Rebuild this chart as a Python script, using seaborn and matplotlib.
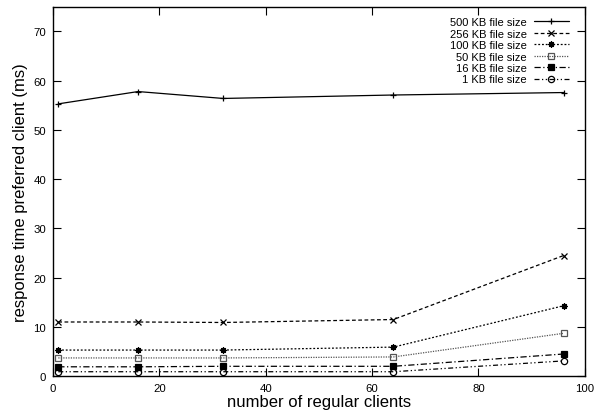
import numpy as np
import pandas as pd
import matplotlib
matplotlib.use("Agg")
import matplotlib.pyplot as plt
import seaborn as sns

# numero de clientes regulares (eixo x)
clients = [1, 16, 32, 64, 96]

# tempo de resposta do cliente preferido (ms), um array por tamanho de arquivo
kb500 = [55.3, 57.8, 56.4, 57.1, 57.6]
kb256 = [11.0, 11.0, 10.9, 11.5, 24.5]
kb100 = [5.3, 5.3, 5.3, 5.9, 14.3]
kb50 = [3.7, 3.7, 3.7, 3.9, 8.7]
kb16 = [1.9, 1.9, 2.0, 2.0, 4.5]
kb1 = [0.9, 0.9, 0.9, 0.9, 3.1]

labels = ["500 KB file size", "256 KB file size", "100 KB file size",
          "50 KB file size", "16 KB file size", "1 KB file size"]
series = [kb500, kb256, kb100, kb50, kb16, kb1]

# estilo parecido com gnuplot
estilos = [
    dict(linestyle="-", marker="+", color="black", mfc="black"),
    dict(linestyle=(0, (3, 2)), marker="x", color="black", mfc="black"),
    dict(linestyle=(0, (1.5, 1.5)), marker=(8, 2, 0), color="black", mfc="black"),
    dict(linestyle=(0, (1, 1)), marker="s", color="#555555", mfc="none"),
    dict(linestyle=(0, (5, 2, 1, 2)), marker="s", color="black", mfc="black"),
    dict(linestyle=(0, (4, 2, 1, 2, 1, 2)), marker="o", color="black", mfc="none"),
]

sns.set_style("ticks")
plt.rcParams["font.family"] = ["Liberation Sans", "DejaVu Sans"]
plt.rcParams["text.color"] = "black"
plt.rcParams["axes.labelcolor"] = "black"

fig = plt.figure(figsize=(5.95, 4.14), dpi=100)
ax = fig.add_axes([0.089, 0.089, 0.894, 0.892])

for lab, ys, st in zip(labels, series, estilos):
    df = pd.DataFrame({"x": clients, "y": ys})
    sns.lineplot(data=df, x="x", y="y", ax=ax, label=lab,
                 linewidth=0.9, markersize=4.5, markeredgewidth=0.9,
                 markeredgecolor=st["color"], **st)

ax.set_xlim(0, 100)
ax.set_ylim(0, 75)
ax.set_xticks(np.arange(0, 101, 20))
ax.set_yticks(np.arange(0, 71, 10))
ax.tick_params(direction="in", length=6, width=0.8, top=True, right=True,
               labelsize=8.2, colors="black", labelcolor="black", pad=5)
for s in ax.spines.values():
    s.set_color("black")
    s.set_linewidth(1)

ax.set_xlabel("number of regular clients", fontsize=12, labelpad=1)
ax.set_ylabel("response time preferred client (ms)", fontsize=12, labelpad=4)

leg = ax.legend(loc="upper right", bbox_to_anchor=(0.985, 0.993),
                markerfirst=False, frameon=False,
                fontsize=8, labelspacing=0.13, handlelength=3.2,
                handletextpad=0.6, borderaxespad=0.3)
for t in leg.get_texts():
    t.set_color("black")

fig.savefig("out.png", dpi=100)
